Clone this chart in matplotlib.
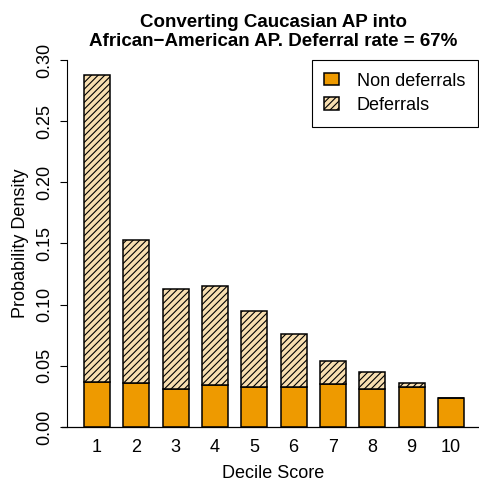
import numpy as np
import matplotlib
matplotlib.use('Agg')
import matplotlib.pyplot as plt

plt.rcParams['font.family'] = ['Liberation Sans', 'DejaVu Sans']
plt.rcParams['hatch.linewidth'] = 0.8

deciles = ['1', '2', '3', '4', '5', '6', '7', '8', '9', '10']
non_deferrals = [0.037, 0.0357, 0.0308, 0.0346, 0.033, 0.033, 0.0352, 0.0308, 0.033, 0.0235]
totals = [0.288, 0.1526, 0.1128, 0.115, 0.0948, 0.076, 0.0537, 0.0452, 0.0362, 0.0235]
deferrals = [t - n for t, n in zip(totals, non_deferrals)]

orange = '#EE9A00'
wheat = '#F7DEB0'

fig = plt.figure(figsize=(4.79, 4.83), dpi=100)
ax = fig.add_axes([67/479, 56/483, 412/479, 367/483])

# R style barplot positions: width 1, space 0.5
x = 1.5*np.arange(1, len(deciles) + 1) - 0.5

ax.bar(x, non_deferrals, width=1.0, color=orange, edgecolor='black',
       linewidth=1.1, label='Non deferrals')
ax.bar(x, deferrals, bottom=non_deferrals, width=1.0, color=wheat,
       edgecolor='black', linewidth=1.1, hatch='/////', label='Deferrals')
ax.plot([-0.335, 15.6], [0, 0], color='black', linewidth=0.9, clip_on=False)

ax.set_xlim(-0.144, 15.568)
ax.set_ylim(0, 0.30)

for s in ['top', 'right', 'bottom']:
    ax.spines[s].set_visible(False)
ax.spines['left'].set_linewidth(0.8)

ax.set_yticks([0, 0.05, 0.10, 0.15, 0.20, 0.25, 0.30])
ax.set_yticklabels(['0.00', '0.05', '0.10', '0.15', '0.20', '0.25', '0.30'],
                   rotation=90, va='center', fontsize=13)
ax.tick_params(axis='y', direction='out', length=5, width=0.8, pad=5)
ax.set_xticks(x)
ax.set_xticklabels(deciles, fontsize=13)
ax.tick_params(axis='x', length=0, pad=9)

ax.set_xlabel('Decile Score', fontsize=13)
ax.xaxis.set_label_coords(0.5, -0.128)
ax.xaxis.label.set_verticalalignment('center')
ax.set_ylabel('Probability Density', fontsize=13)
ax.yaxis.set_label_coords(-0.114, 0.5)
ax.yaxis.label.set_verticalalignment('center')

fig.text(273/479, 1 - 27/483, 'Converting Caucasian AP into', ha='center',
         va='baseline', fontsize=13.5, fontweight='bold')
fig.text(273/479, 1 - 46/483, 'African\u2212American AP. Deferral rate = 67%',
         ha='center', va='baseline', fontsize=13.5, fontweight='bold')

leg = ax.legend(loc='upper right', bbox_to_anchor=(478/479, 1 - 60/483),
                bbox_transform=fig.transFigure, borderaxespad=0, fontsize=13,
                fancybox=False, edgecolor='black', framealpha=1,
                handlelength=0.8, handleheight=0.65, handletextpad=1.0,
                borderpad=0.7, labelspacing=0.4)
leg.get_frame().set_linewidth(0.8)

fig.savefig('out.png', dpi=100)
